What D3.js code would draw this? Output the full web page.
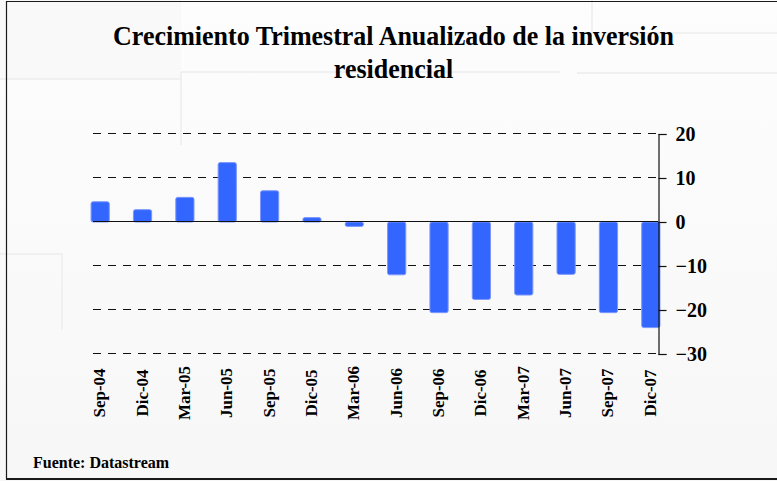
<!DOCTYPE html>
<html>
<head>
<meta charset="utf-8">
<script src="https://cdn.jsdelivr.net/npm/d3@7"></script>
<style>
  html, body { margin: 0; padding: 0; background: #ffffff; }
  svg { display: block; }
  text { font-family: "Liberation Serif", "Times New Roman", serif; font-weight: bold; fill: #000; }
</style>
</head>
<body>
<svg id="chart" width="777" height="481"></svg>
<script>
const titleLines = ["Crecimiento Trimestral Anualizado de la inversión", "residencial"];
const categories = ["Sep-04","Dic-04","Mar-05","Jun-05","Sep-05","Dic-05","Mar-06","Jun-06","Sep-06","Dic-06","Mar-07","Jun-07","Sep-07","Dic-07"];
const values = [4.6, 2.8, 5.6, 13.5, 7.1, 1.0, -1.0, -12.0, -20.6, -17.6, -16.6, -11.9, -20.6, -24.0];
const yTicks = [20, 10, 0, -10, -20, -30];
const sourceText = "Fuente: Datastream";

const svg = d3.select("#chart");
const W = 777, H = 481;

// background
const defs = svg.append("defs");
const grad = defs.append("linearGradient").attr("id", "bg").attr("x1", 0).attr("y1", 0).attr("x2", 0).attr("y2", 1);
grad.append("stop").attr("offset", "0%").attr("stop-color", "#fdfdfd");
grad.append("stop").attr("offset", "100%").attr("stop-color", "#f7f7f7");
svg.append("rect").attr("width", W).attr("height", H).attr("fill", "url(#bg)");
svg.append("rect").attr("x", 0).attr("y", 0).attr("width", 181).attr("height", 79).attr("fill", "#f9f9f9");

// faint decorative panels
const deco = svg.append("g").attr("stroke", "#ededed").attr("stroke-width", 1.5).attr("fill", "none");
deco.append("path").attr("d", "M0,79H181");
deco.append("path").attr("d", "M181,72V145");
deco.append("path").attr("d", "M181,72H560");
deco.append("path").attr("d", "M592,0V33H777");
deco.append("path").attr("d", "M577,73H777");
deco.append("path").attr("d", "M0,254H62V330");

// frame
const frame = svg.append("g").attr("stroke", "#1a1a1a").attr("fill", "none");
frame.append("path").attr("d", "M6.5,1.5H777").attr("stroke-width", 1.2);
frame.append("path").attr("d", "M6.5,1V479").attr("stroke-width", 1.2);
frame.append("path").attr("d", "M6,479H777").attr("stroke-width", 2);

// title (slightly tall, condensed look)
svg.append("g").selectAll("text").data(titleLines).join("text")
  .attr("transform", (d, i) => `translate(393.5,${45 + i * 33}) scale(1,1.08)`)
  .attr("text-anchor", "middle").style("font-size", "26px").text(d => d);

// scales
const x = d3.scaleBand().domain(categories).range([79, 672]).paddingInner(0.57).paddingOuter(0.285);
const y = d3.scaleLinear().domain([-30, 20]).range([354, 134]);
const axisX = 658, gridX0 = 93;
const crisp = v => Math.round(v) - 0.5;

// grid (dashed)
svg.append("g").selectAll("line").data(yTicks.filter(t => t !== 0)).join("line")
  .attr("x1", gridX0).attr("x2", axisX)
  .attr("y1", d => crisp(y(d))).attr("y2", d => crisp(y(d)))
  .attr("stroke", "#111").attr("stroke-width", 1).attr("stroke-dasharray", "8,7");

// bars
svg.append("g").selectAll("rect").data(values).join("rect")
  .attr("x", (d, i) => x(categories[i]))
  .attr("width", x.bandwidth())
  .attr("y", d => y(Math.max(0, d)))
  .attr("height", d => Math.abs(y(d) - y(0)))
  .attr("rx", 2).attr("ry", 2)
  .attr("fill", "#3366ff")
  .attr("stroke", "#7b97ff").attr("stroke-width", 1);

// zero line
svg.append("line").attr("x1", gridX0).attr("x2", axisX).attr("y1", crisp(y(0))).attr("y2", crisp(y(0)))
  .attr("stroke", "#111").attr("stroke-width", 1.2);

// right axis
const axis = d3.axisRight(y).tickValues(yTicks).tickSize(8).tickPadding(9).tickFormat(d3.format("d"));
const ag = svg.append("g").attr("transform", `translate(${axisX + 0.5},0)`).call(axis);
ag.select(".domain").attr("stroke", "#111").attr("stroke-width", 1.2);
ag.selectAll(".tick line").attr("stroke", "#111").attr("stroke-width", 1.2);
ag.selectAll(".tick text").style("font-size", "20px").style("font-family", "'Liberation Serif', serif").style("font-weight", "bold").attr("fill", "#000");

// category labels
svg.append("g").selectAll("text").data(categories).join("text")
  .attr("transform", d => `translate(${x(d) + x.bandwidth() / 2 + 5},393) rotate(-90)`)
  .attr("text-anchor", "middle").style("font-size", "17px").text(d => d);

// source
svg.append("text").attr("x", 33).attr("y", 468).style("font-size", "16px").text(sourceText);
</script>
</body>
</html>
